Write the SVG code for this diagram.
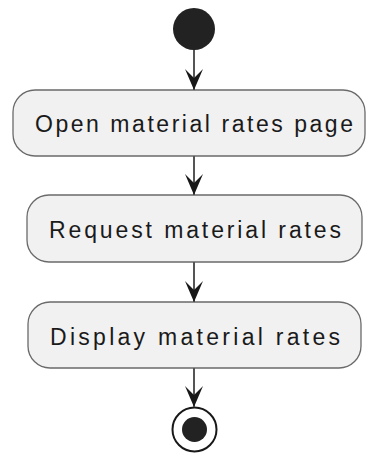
<svg xmlns="http://www.w3.org/2000/svg" width="366" height="454" viewBox="0 0 366 454">
  <style>
    .act rect { fill: #F1F1F1; stroke: #6a6a6a; stroke-width: 1.3; }
    .act text { font-family: "Liberation Sans", Arial, sans-serif; font-size: 23px; fill: #1a1a1a; }
    .conn line { stroke: #555555; stroke-width: 2; }
    .dot { fill: #222222; }
  </style>
  <defs>
    <marker id="arrow" viewBox="0 0 21 18" refX="21" refY="9" markerWidth="21" markerHeight="18" markerUnits="userSpaceOnUse" orient="auto">
      <path d="M21,9 L0,0 L9,9 L0,18 Z" fill="#181818"/>
    </marker>
  </defs>
  <rect width="366" height="454" fill="#ffffff"/>

  <g id="start">
    <circle class="dot" cx="194" cy="29" r="21"/>
  </g>

  <g id="open-material-rates-page" class="act">
    <rect x="13" y="90" width="352" height="66" rx="22" ry="22"/>
    <text x="35" y="132" textLength="318" lengthAdjust="spacing">Open material rates page</text>
  </g>

  <g id="request-material-rates" class="act">
    <rect x="27" y="195" width="335" height="67" rx="22" ry="22"/>
    <text x="49" y="238" textLength="292" lengthAdjust="spacing">Request material rates</text>
  </g>

  <g id="display-material-rates" class="act">
    <rect x="28" y="302" width="333" height="66" rx="22" ry="22"/>
    <text x="50" y="345" textLength="290" lengthAdjust="spacing">Display material rates</text>
  </g>

  <g id="end">
    <circle cx="194.5" cy="429.5" r="22" fill="#ffffff" stroke="#181818" stroke-width="2"/>
    <circle class="dot" cx="194.5" cy="429.5" r="12.5"/>
  </g>

  <g id="connectors" class="conn">
    <line x1="194" y1="50" x2="194" y2="90" marker-end="url(#arrow)"/>
    <line x1="194" y1="156" x2="194" y2="195" marker-end="url(#arrow)"/>
    <line x1="194" y1="262" x2="194" y2="302" marker-end="url(#arrow)"/>
    <line x1="194" y1="368" x2="194" y2="407" marker-end="url(#arrow)"/>
  </g>
</svg>
